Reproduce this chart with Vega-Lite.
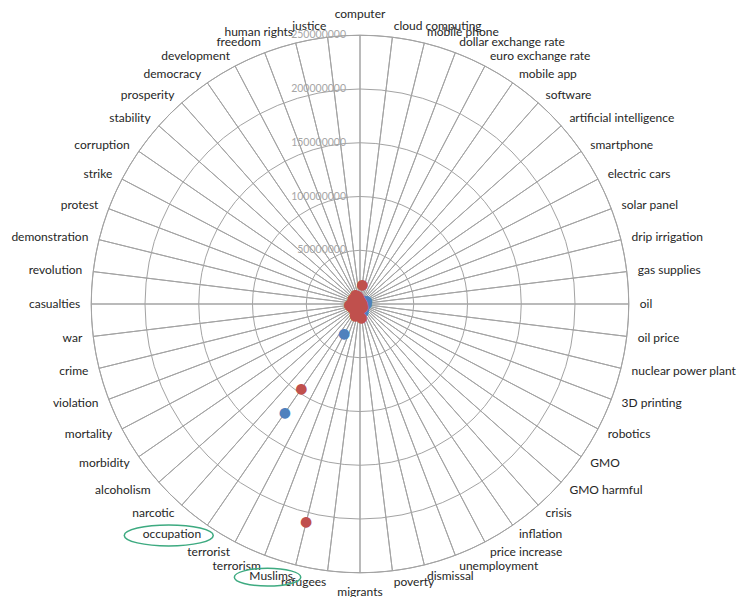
{
  "$schema": "https://vega.github.io/schema/vega-lite/v6.json",
  "width": 720,
  "height": 580,
  "autosize": "none",
  "padding": {"left": 0, "top": 14, "right": 21, "bottom": 3},
  "background": "white",
  "config": {"view": {"stroke": null}, "text": {"font": "Lato"}},
  "datasets": {
    "cats": [
      {"cat": "computer"}, {"cat": "cloud computing"}, {"cat": "mobile phone"}, {"cat": "dollar exchange rate"},
      {"cat": "euro exchange rate"}, {"cat": "mobile app"}, {"cat": "software"}, {"cat": "artificial intelligence"},
      {"cat": "smartphone"}, {"cat": "electric cars"}, {"cat": "solar panel"}, {"cat": "drip irrigation"},
      {"cat": "gas supplies"}, {"cat": "oil"}, {"cat": "oil price"}, {"cat": "nuclear power plant"},
      {"cat": "3D printing"}, {"cat": "robotics"}, {"cat": "GMO"}, {"cat": "GMO harmful"},
      {"cat": "crisis"}, {"cat": "inflation"}, {"cat": "price increase"}, {"cat": "unemployment"},
      {"cat": "dismissal"}, {"cat": "poverty"}, {"cat": "migrants"}, {"cat": "refugees"},
      {"cat": "Muslims"}, {"cat": "terrorism"}, {"cat": "terrorist"}, {"cat": "occupation"},
      {"cat": "narcotic"}, {"cat": "alcoholism"}, {"cat": "morbidity"}, {"cat": "mortality"},
      {"cat": "violation"}, {"cat": "crime"}, {"cat": "war"}, {"cat": "casualties"},
      {"cat": "revolution"}, {"cat": "demonstration"}, {"cat": "protest"}, {"cat": "strike"},
      {"cat": "corruption"}, {"cat": "stability"}, {"cat": "prosperity"}, {"cat": "democracy"},
      {"cat": "development"}, {"cat": "freedom"}, {"cat": "human rights"}, {"cat": "justice"}
    ],
    "rings": [
      {"ring": 50000000}, {"ring": 100000000}, {"ring": 150000000}, {"ring": 200000000}, {"ring": 250000000}
    ],
    "points": [
      {"series": "Series 1", "cat": "computer", "value": 4000000},
      {"series": "Series 1", "cat": "cloud computing", "value": 3000000},
      {"series": "Series 1", "cat": "mobile phone", "value": 2000000},
      {"series": "Series 1", "cat": "dollar exchange rate", "value": 3000000},
      {"series": "Series 1", "cat": "euro exchange rate", "value": 2000000},
      {"series": "Series 1", "cat": "mobile app", "value": 2000000},
      {"series": "Series 1", "cat": "software", "value": 3000000},
      {"series": "Series 1", "cat": "artificial intelligence", "value": 4000000},
      {"series": "Series 1", "cat": "smartphone", "value": 4000000},
      {"series": "Series 1", "cat": "electric cars", "value": 7000000},
      {"series": "Series 1", "cat": "solar panel", "value": 6000000},
      {"series": "Series 1", "cat": "drip irrigation", "value": 2000000},
      {"series": "Series 1", "cat": "gas supplies", "value": 3000000},
      {"series": "Series 1", "cat": "oil", "value": 6000000},
      {"series": "Series 1", "cat": "oil price", "value": 4000000},
      {"series": "Series 1", "cat": "nuclear power plant", "value": 3000000},
      {"series": "Series 1", "cat": "3D printing", "value": 2000000},
      {"series": "Series 1", "cat": "robotics", "value": 3000000},
      {"series": "Series 1", "cat": "GMO", "value": 4000000},
      {"series": "Series 1", "cat": "GMO harmful", "value": 3000000},
      {"series": "Series 1", "cat": "crisis", "value": 5000000},
      {"series": "Series 1", "cat": "inflation", "value": 5000000},
      {"series": "Series 1", "cat": "price increase", "value": 6000000},
      {"series": "Series 1", "cat": "unemployment", "value": 8000000},
      {"series": "Series 1", "cat": "dismissal", "value": 5000000},
      {"series": "Series 1", "cat": "poverty", "value": 6000000},
      {"series": "Series 1", "cat": "migrants", "value": 5000000},
      {"series": "Series 1", "cat": "refugees", "value": 7000000},
      {"series": "Series 1", "cat": "Muslims", "value": 6000000},
      {"series": "Series 1", "cat": "terrorism", "value": 10000000},
      {"series": "Series 1", "cat": "terrorist", "value": 32000000},
      {"series": "Series 1", "cat": "occupation", "value": 123000000},
      {"series": "Series 1", "cat": "narcotic", "value": 4000000},
      {"series": "Series 1", "cat": "alcoholism", "value": 3000000},
      {"series": "Series 1", "cat": "morbidity", "value": 4000000},
      {"series": "Series 1", "cat": "mortality", "value": 5000000},
      {"series": "Series 1", "cat": "violation", "value": 4000000},
      {"series": "Series 1", "cat": "crime", "value": 5000000},
      {"series": "Series 1", "cat": "war", "value": 6000000},
      {"series": "Series 1", "cat": "casualties", "value": 5000000},
      {"series": "Series 1", "cat": "revolution", "value": 4000000},
      {"series": "Series 1", "cat": "demonstration", "value": 3000000},
      {"series": "Series 1", "cat": "protest", "value": 3000000},
      {"series": "Series 1", "cat": "strike", "value": 2000000},
      {"series": "Series 1", "cat": "corruption", "value": 4000000},
      {"series": "Series 1", "cat": "stability", "value": 3000000},
      {"series": "Series 1", "cat": "prosperity", "value": 3000000},
      {"series": "Series 1", "cat": "democracy", "value": 4000000},
      {"series": "Series 1", "cat": "development", "value": 5000000},
      {"series": "Series 1", "cat": "freedom", "value": 3000000},
      {"series": "Series 1", "cat": "human rights", "value": 4000000},
      {"series": "Series 1", "cat": "justice", "value": 3000000},
      {"series": "Series 2", "cat": "computer", "value": 3000000},
      {"series": "Series 2", "cat": "cloud computing", "value": 18000000},
      {"series": "Series 2", "cat": "mobile phone", "value": 2000000},
      {"series": "Series 2", "cat": "dollar exchange rate", "value": 2000000},
      {"series": "Series 2", "cat": "euro exchange rate", "value": 1000000},
      {"series": "Series 2", "cat": "mobile app", "value": 2000000},
      {"series": "Series 2", "cat": "software", "value": 1000000},
      {"series": "Series 2", "cat": "artificial intelligence", "value": 1000000},
      {"series": "Series 2", "cat": "smartphone", "value": 1000000},
      {"series": "Series 2", "cat": "electric cars", "value": 1000000},
      {"series": "Series 2", "cat": "solar panel", "value": 1000000},
      {"series": "Series 2", "cat": "drip irrigation", "value": 500000},
      {"series": "Series 2", "cat": "gas supplies", "value": 1000000},
      {"series": "Series 2", "cat": "oil", "value": 2000000},
      {"series": "Series 2", "cat": "oil price", "value": 2000000},
      {"series": "Series 2", "cat": "nuclear power plant", "value": 1000000},
      {"series": "Series 2", "cat": "3D printing", "value": 500000},
      {"series": "Series 2", "cat": "robotics", "value": 500000},
      {"series": "Series 2", "cat": "GMO", "value": 500000},
      {"series": "Series 2", "cat": "GMO harmful", "value": 500000},
      {"series": "Series 2", "cat": "crisis", "value": 4000000},
      {"series": "Series 2", "cat": "inflation", "value": 3000000},
      {"series": "Series 2", "cat": "price increase", "value": 3000000},
      {"series": "Series 2", "cat": "unemployment", "value": 4000000},
      {"series": "Series 2", "cat": "dismissal", "value": 4000000},
      {"series": "Series 2", "cat": "poverty", "value": 13000000},
      {"series": "Series 2", "cat": "migrants", "value": 5000000},
      {"series": "Series 2", "cat": "refugees", "value": 8000000},
      {"series": "Series 2", "cat": "Muslims", "value": 209000000},
      {"series": "Series 2", "cat": "terrorism", "value": 12000000},
      {"series": "Series 2", "cat": "terrorist", "value": 10000000},
      {"series": "Series 2", "cat": "occupation", "value": 96000000},
      {"series": "Series 2", "cat": "narcotic", "value": 6000000},
      {"series": "Series 2", "cat": "alcoholism", "value": 6000000},
      {"series": "Series 2", "cat": "morbidity", "value": 7000000},
      {"series": "Series 2", "cat": "mortality", "value": 8000000},
      {"series": "Series 2", "cat": "violation", "value": 6000000},
      {"series": "Series 2", "cat": "crime", "value": 9000000},
      {"series": "Series 2", "cat": "war", "value": 10000000},
      {"series": "Series 2", "cat": "casualties", "value": 8000000},
      {"series": "Series 2", "cat": "revolution", "value": 7000000},
      {"series": "Series 2", "cat": "demonstration", "value": 6000000},
      {"series": "Series 2", "cat": "protest", "value": 6000000},
      {"series": "Series 2", "cat": "strike", "value": 5000000},
      {"series": "Series 2", "cat": "corruption", "value": 8000000},
      {"series": "Series 2", "cat": "stability", "value": 7000000},
      {"series": "Series 2", "cat": "prosperity", "value": 6000000},
      {"series": "Series 2", "cat": "democracy", "value": 8000000},
      {"series": "Series 2", "cat": "development", "value": 9000000},
      {"series": "Series 2", "cat": "freedom", "value": 7000000},
      {"series": "Series 2", "cat": "human rights", "value": 8000000},
      {"series": "Series 2", "cat": "justice", "value": 6000000}
    ],
    "notes": [
      {"note": "occupation", "x": -177900000, "y": -215300000},
      {"note": "Muslims", "x": -86000000, "y": -254100000}
    ]
  },
  "layer": [
    {
      "data": {"name": "rings"},
      "mark": {"type": "arc", "filled": false, "stroke": "#a3a3a3", "strokeWidth": 1, "theta": 0, "theta2": 6.2832},
      "encoding": {
        "radius": {"field": "ring", "type": "quantitative", "stack": null, "scale": {"type": "linear", "domain": [0, 250000000], "range": [0, 268.75], "zero": true, "nice": false}}
      }
    },
    {
      "data": {"name": "cats"},
      "mark": {"type": "arc", "filled": false, "stroke": "#a3a3a3", "strokeWidth": 1},
      "encoding": {
        "theta": {"aggregate": "count", "type": "quantitative", "stack": true, "scale": {"domain": [0, 52], "range": [0, 6.283185]}},
        "detail": {"field": "cat", "type": "nominal"},
        "radius": {"datum": 250000000, "type": "quantitative", "scale": {"type": "linear", "domain": [0, 250000000], "range": [0, 268.75], "zero": true, "nice": false}}
      }
    },
    {
      "data": {"name": "rings"},
      "mark": {"type": "text", "align": "right", "baseline": "middle", "dx": -14, "color": "#a6a6a6", "fontSize": 10.5},
      "encoding": {
        "radius": {"field": "ring", "type": "quantitative", "stack": null, "scale": {"type": "linear", "domain": [0, 250000000], "range": [0, 268.75], "zero": true, "nice": false}},
        "text": {"field": "ring", "type": "quantitative", "format": "d"}
      }
    },
    {
      "data": {"name": "points"},
      "mark": {"type": "text", "text": "●", "font": "DejaVu Sans", "fontSize": 14, "align": "center", "baseline": "middle"},
      "encoding": {
        "theta": {"field": "cat", "type": "nominal", "scale": {"type": "point", "domain": ["computer","cloud computing","mobile phone","dollar exchange rate","euro exchange rate","mobile app","software","artificial intelligence","smartphone","electric cars","solar panel","drip irrigation","gas supplies","oil","oil price","nuclear power plant","3D printing","robotics","GMO","GMO harmful","crisis","inflation","price increase","unemployment","dismissal","poverty","migrants","refugees","Muslims","terrorism","terrorist","occupation","narcotic","alcoholism","morbidity","mortality","violation","crime","war","casualties","revolution","demonstration","protest","strike","corruption","stability","prosperity","democracy","development","freedom","human rights","justice"], "range": [0, 6.162355], "padding": 0}},
        "radius": {"field": "value", "type": "quantitative", "stack": null, "scale": {"type": "linear", "domain": [0, 250000000], "range": [0, 268.75], "zero": true, "nice": false}},
        "color": {"field": "series", "type": "nominal", "scale": {"domain": ["Series 1", "Series 2"], "range": ["#4F81BD", "#C0504D"]}, "legend": null}
      }
    },
    {
      "data": {"name": "cats"},
      "transform": [{"filter": {"field": "cat", "oneOf": ["cloud computing","mobile phone","dollar exchange rate","euro exchange rate","mobile app","software","artificial intelligence","smartphone","electric cars","solar panel","drip irrigation","gas supplies","oil","oil price","nuclear power plant","3D printing","robotics","GMO","GMO harmful","crisis","inflation","price increase","unemployment","dismissal","poverty"]}}],
      "mark": {"type": "text", "align": "left", "baseline": "middle", "radiusOffset": 11, "fontSize": 12, "color": "#262626"},
      "encoding": {
        "theta": {"field": "cat", "type": "nominal", "scale": {"type": "point", "domain": ["computer","cloud computing","mobile phone","dollar exchange rate","euro exchange rate","mobile app","software","artificial intelligence","smartphone","electric cars","solar panel","drip irrigation","gas supplies","oil","oil price","nuclear power plant","3D printing","robotics","GMO","GMO harmful","crisis","inflation","price increase","unemployment","dismissal","poverty","migrants","refugees","Muslims","terrorism","terrorist","occupation","narcotic","alcoholism","morbidity","mortality","violation","crime","war","casualties","revolution","demonstration","protest","strike","corruption","stability","prosperity","democracy","development","freedom","human rights","justice"], "range": [0, 6.162355], "padding": 0}},
        "radius": {"datum": 250000000, "type": "quantitative", "scale": {"type": "linear", "domain": [0, 250000000], "range": [0, 268.75], "zero": true, "nice": false}},
        "text": {"field": "cat", "type": "nominal"}
      }
    },
    {
      "data": {"name": "cats"},
      "transform": [{"filter": {"field": "cat", "oneOf": ["refugees","Muslims","terrorism","terrorist","occupation","narcotic","alcoholism","morbidity","mortality","violation","crime","war","casualties","revolution","demonstration","protest","strike","corruption","stability","prosperity","democracy","development","freedom","human rights","justice"]}}],
      "mark": {"type": "text", "align": "right", "baseline": "middle", "radiusOffset": 11, "fontSize": 12, "color": "#262626"},
      "encoding": {
        "theta": {"field": "cat", "type": "nominal", "scale": {"type": "point", "domain": ["computer","cloud computing","mobile phone","dollar exchange rate","euro exchange rate","mobile app","software","artificial intelligence","smartphone","electric cars","solar panel","drip irrigation","gas supplies","oil","oil price","nuclear power plant","3D printing","robotics","GMO","GMO harmful","crisis","inflation","price increase","unemployment","dismissal","poverty","migrants","refugees","Muslims","terrorism","terrorist","occupation","narcotic","alcoholism","morbidity","mortality","violation","crime","war","casualties","revolution","demonstration","protest","strike","corruption","stability","prosperity","democracy","development","freedom","human rights","justice"], "range": [0, 6.162355], "padding": 0}},
        "radius": {"datum": 250000000, "type": "quantitative", "scale": {"type": "linear", "domain": [0, 250000000], "range": [0, 268.75], "zero": true, "nice": false}},
        "text": {"field": "cat", "type": "nominal"}
      }
    },
    {
      "data": {"name": "cats"},
      "transform": [{"filter": {"field": "cat", "equal": "computer"}}],
      "mark": {"type": "text", "align": "center", "baseline": "bottom", "radiusOffset": 14, "fontSize": 12, "color": "#262626"},
      "encoding": {
        "theta": {"field": "cat", "type": "nominal", "scale": {"type": "point", "domain": ["computer","cloud computing","mobile phone","dollar exchange rate","euro exchange rate","mobile app","software","artificial intelligence","smartphone","electric cars","solar panel","drip irrigation","gas supplies","oil","oil price","nuclear power plant","3D printing","robotics","GMO","GMO harmful","crisis","inflation","price increase","unemployment","dismissal","poverty","migrants","refugees","Muslims","terrorism","terrorist","occupation","narcotic","alcoholism","morbidity","mortality","violation","crime","war","casualties","revolution","demonstration","protest","strike","corruption","stability","prosperity","democracy","development","freedom","human rights","justice"], "range": [0, 6.162355], "padding": 0}},
        "radius": {"datum": 250000000, "type": "quantitative", "scale": {"type": "linear", "domain": [0, 250000000], "range": [0, 268.75], "zero": true, "nice": false}},
        "text": {"field": "cat", "type": "nominal"}
      }
    },
    {
      "data": {"name": "cats"},
      "transform": [{"filter": {"field": "cat", "equal": "migrants"}}],
      "mark": {"type": "text", "align": "center", "baseline": "top", "radiusOffset": 14, "fontSize": 12, "color": "#262626"},
      "encoding": {
        "theta": {"field": "cat", "type": "nominal", "scale": {"type": "point", "domain": ["computer","cloud computing","mobile phone","dollar exchange rate","euro exchange rate","mobile app","software","artificial intelligence","smartphone","electric cars","solar panel","drip irrigation","gas supplies","oil","oil price","nuclear power plant","3D printing","robotics","GMO","GMO harmful","crisis","inflation","price increase","unemployment","dismissal","poverty","migrants","refugees","Muslims","terrorism","terrorist","occupation","narcotic","alcoholism","morbidity","mortality","violation","crime","war","casualties","revolution","demonstration","protest","strike","corruption","stability","prosperity","democracy","development","freedom","human rights","justice"], "range": [0, 6.162355], "padding": 0}},
        "radius": {"datum": 250000000, "type": "quantitative", "scale": {"type": "linear", "domain": [0, 250000000], "range": [0, 268.75], "zero": true, "nice": false}},
        "text": {"field": "cat", "type": "nominal"}
      }
    },
    {
      "data": {"name": "notes"},
      "transform": [{"filter": {"field": "note", "equal": "occupation"}}],
      "mark": {"type": "point", "filled": false, "stroke": "#3DAA80", "strokeWidth": 1.5, "opacity": 1, "size": 7921, "shape": "M -1 0 C -1 -0.13 -0.552 -0.236 0 -0.236 C 0.552 -0.236 1 -0.13 1 0 C 1 0.13 0.552 0.236 0 0.236 C -0.552 0.236 -1 0.13 -1 0 Z"},
      "encoding": {
        "x": {"field": "x", "type": "quantitative", "scale": {"domain": [-334883721, 334883721], "nice": false, "zero": false}, "axis": null},
        "y": {"field": "y", "type": "quantitative", "scale": {"domain": [-269767442, 269767442], "nice": false, "zero": false}, "axis": null}
      }
    },
    {
      "data": {"name": "notes"},
      "transform": [{"filter": {"field": "note", "equal": "Muslims"}}],
      "mark": {"type": "point", "filled": false, "stroke": "#3DAA80", "strokeWidth": 1.5, "opacity": 1, "size": 4410, "shape": "M -1 0 C -1 -0.148 -0.552 -0.268 0 -0.268 C 0.552 -0.268 1 -0.148 1 0 C 1 0.148 0.552 0.268 0 0.268 C -0.552 0.268 -1 0.148 -1 0 Z"},
      "encoding": {
        "x": {"field": "x", "type": "quantitative", "scale": {"domain": [-334883721, 334883721], "nice": false, "zero": false}, "axis": null},
        "y": {"field": "y", "type": "quantitative", "scale": {"domain": [-269767442, 269767442], "nice": false, "zero": false}, "axis": null}
      }
    }
  ],
  "resolve": {"scale": {"theta": "independent"}}
}
